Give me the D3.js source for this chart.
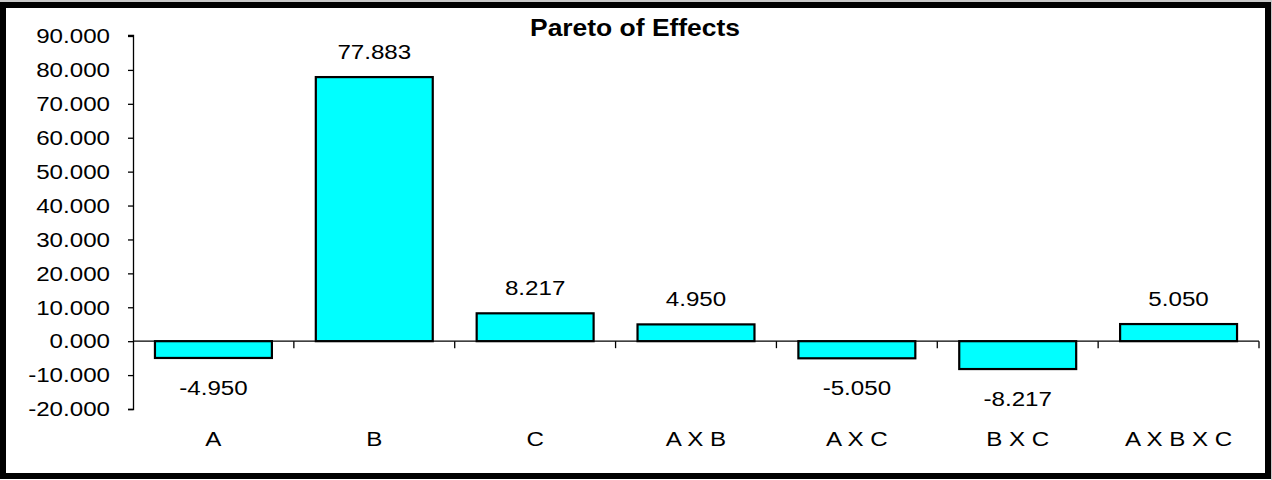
<!DOCTYPE html>
<html><head><meta charset="utf-8">
<script src="https://cdn.jsdelivr.net/npm/d3@7"></script>
<style>body{margin:0;background:#c8c8c8;}svg{display:block;}text{font-family:"Liberation Sans",Arial,sans-serif;fill:#000;}</style>
</head><body>
<script>
const categories = ["A","B","C","A X B","A X C","B X C","A X B X C"];
const effects = [-4.950, 77.883, 8.217, 4.950, -5.050, -8.217, 5.050];
const yTicks = [-20,-10,0,10,20,30,40,50,60,70,80,90];
const title = "Pareto of Effects";

const W = 1272, H = 480, SX = 1.15;
const fmt = d => d3.format(".3f")(d).replace("\u2212","-");
const svg = d3.select("body").append("svg").attr("width", W).attr("height", H);
svg.append("rect").attr("x",0).attr("y",2).attr("width",1271).attr("height",478).attr("fill","#fff");
svg.append("rect").attr("x",3).attr("y",5).attr("width",1265).attr("height",471)
  .attr("fill","none").attr("stroke","#000").attr("stroke-width",6);

const pL = 133, pR = 1259, pT = 36, pB = 409;
const x = d3.scaleBand().domain(categories).range([pL, pR]).paddingInner(0.273).paddingOuter(0.1365);
const xb = d3.scaleBand().domain(categories).range([pL, pR]);
const y = d3.scaleLinear().domain([-20, 90]).range([pB, pT]);

function place(sel, fx, fy){
  sel.attr("x",0).attr("y",0).attr("transform",(d,i)=>`translate(${fx(d,i)},${fy(d,i)}) scale(${SX},1)`);
}

svg.append("text").attr("text-anchor","middle").attr("font-size", 23).attr("font-weight","bold")
  .attr("transform",`translate(635,36) scale(${SX},1)`).text(title);

// y axis
const ya = svg.append("g").attr("transform",`translate(${pL},0)`)
  .call(d3.axisLeft(y).tickValues(yTicks).tickFormat(fmt).tickSize(5).tickPadding(18));
ya.select(".domain").attr("d", `M-5,${y(-20)+0.5}H0.5V${y(90)-0.5}H-5`).attr("stroke","#000").attr("stroke-width",1.3);
ya.selectAll(".tick line").attr("stroke","#000").attr("stroke-width",1.3);
ya.selectAll(".tick text").attr("font-size",21).attr("fill","#000")
  .attr("font-family","Liberation Sans, Arial, sans-serif")
  .attr("x",0).attr("transform",`translate(-23,0) scale(${SX},1)`);

// bars
svg.selectAll("rect.bar").data(effects).enter().append("rect").attr("class","bar")
  .attr("x",(d,i)=>x(categories[i]))
  .attr("width", x.bandwidth())
  .attr("y", d=>y(Math.max(0,d)))
  .attr("height", d=>Math.abs(y(d)-y(0)))
  .attr("fill","#00ffff").attr("stroke","#000").attr("stroke-width",2.2);

// x axis line at zero with boundary ticks
const y0 = y(0);
svg.append("line").attr("x1",pL).attr("x2",pR).attr("y1",y0).attr("y2",y0).attr("stroke","#000").attr("stroke-width",1.3);
const bounds = categories.map(c=>xb(c)).slice(1).concat([pR]);
svg.selectAll("line.xt").data(bounds).enter().append("line").attr("class","xt")
  .attr("x1",d=>d).attr("x2",d=>d).attr("y1",y0).attr("y2",y0+7).attr("stroke","#000").attr("stroke-width",1.3);

// value labels
svg.selectAll("text.val").data(effects).enter().append("text").attr("class","val")
  .attr("text-anchor","middle").attr("font-size",21).text(d=>fmt(d))
  .call(place, (d,i)=>xb(categories[i])+xb.bandwidth()/2, d=> d>=0 ? y(d)-18 : y(d)+37);

// category labels
svg.selectAll("text.cat").data(categories).enter().append("text").attr("class","cat")
  .attr("text-anchor","middle").attr("font-size",21).text(d=>d)
  .call(place, d=>xb(d)+xb.bandwidth()/2, ()=>446);
</script>
</body></html>
